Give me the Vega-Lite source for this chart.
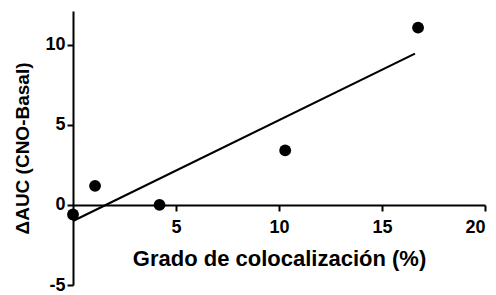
{
  "$schema": "https://vega.github.io/schema/vega-lite/v6.json",
  "autosize": "none",
  "width": 412,
  "height": 274,
  "padding": {"left": 73, "top": 11, "right": 11, "bottom": 10},
  "background": "white",
  "config": {
    "view": {"stroke": null},
    "font": "Liberation Sans",
    "axis": {
      "domainColor": "black",
      "domainWidth": 2,
      "tickColor": "black",
      "tickWidth": 2,
      "tickSize": 6,
      "grid": false,
      "labelFont": "Liberation Sans",
      "labelFontWeight": "bold",
      "labelFontSize": 18,
      "labelColor": "black",
      "titleFont": "Liberation Sans",
      "titleFontWeight": "bold",
      "titleColor": "black"
    }
  },
  "datasets": {
    "points": [
      {"x": 0.0, "y": -0.6},
      {"x": 1.07, "y": 1.19},
      {"x": 4.2, "y": 0.0},
      {"x": 10.3, "y": 3.4},
      {"x": 16.75, "y": 11.06}
    ],
    "fit": [
      {"x": 0.0, "y": -1.0},
      {"x": 16.6, "y": 9.44}
    ]
  },
  "layer": [
    {
      "data": {"name": "fit"},
      "mark": {"type": "line", "color": "black", "strokeWidth": 2.2},
      "encoding": {
        "x": {"field": "x", "type": "quantitative"},
        "y": {"field": "y", "type": "quantitative"}
      }
    },
    {
      "data": {"name": "points"},
      "mark": {"type": "circle", "color": "black", "opacity": 1, "size": 140},
      "encoding": {
        "x": {
          "field": "x", "type": "quantitative",
          "scale": {"domain": [0, 20], "nice": false, "zero": false},
          "axis": {
            "title": "Grado de colocalización (%)",
            "titleFontSize": 22,
            "values": [5, 10, 15, 20],
            "offset": -80,
            "labelPadding": 7,
            "titlePadding": 12
          }
        },
        "y": {
          "field": "y", "type": "quantitative",
          "scale": {"domain": [-5, 12.1], "nice": false, "zero": false},
          "axis": {
            "title": "ΔAUC (CNO-Basal)",
            "titleFontSize": 19,
            "values": [-5, 0, 5, 10],
            "labelExpr": "datum.value < 0 ? '-' + abs(datum.value) : datum.label",
            "labelPadding": 2,
            "titlePadding": 12
          }
        }
      }
    }
  ]
}
